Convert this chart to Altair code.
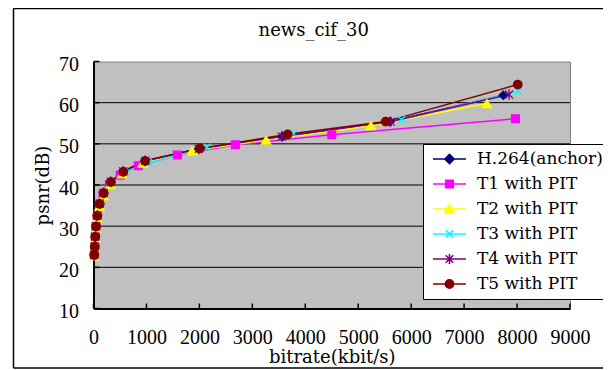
import altair as alt
import pandas as pd

series = ["H.264(anchor)", "T1 with PIT", "T2 with PIT", "T3 with PIT", "T4 with PIT", "T5 with PIT"]
colors = ["#000080", "#FF00FF", "#FFFF00", "#00FFFF", "#800080", "#800000"]

anchor_x = [14, 24, 34, 48, 72, 115, 190, 325, 560, 975, 1990, 3570, 5600, 7740]
anchor_y = [23.0, 25.1, 27.5, 30.0, 32.6, 35.5, 38.1, 40.8, 43.3, 45.9, 48.8, 51.8, 55.4, 61.8]
t1_x = [14, 23, 32, 46, 70, 110, 180, 300, 505, 845, 1585, 2680, 4500, 7970]
t1_y = [22.9, 24.9, 27.3, 29.8, 32.3, 35.1, 37.6, 40.1, 42.4, 44.7, 47.3, 49.8, 52.2, 56.1]
t2_x = [15, 24, 34, 48, 73, 116, 188, 320, 540, 930, 1860, 3260, 5240, 7430]
t2_y = [22.8, 24.8, 27.1, 29.5, 32.0, 34.9, 37.4, 40.1, 42.7, 45.3, 48.3, 50.9, 54.4, 59.8]
t3_x = [15, 25, 35, 50, 76, 120, 196, 340, 585, 1035, 2140, 3775, 5820, 8025]
t3_y = [23.0, 25.1, 27.5, 30.0, 32.6, 35.5, 38.0, 40.6, 43.1, 45.4, 49.1, 52.4, 55.9, 62.8]
t4_x = [14, 24, 34, 48, 72, 116, 191, 327, 560, 980, 1990, 3555, 5615, 7850]
t4_y = [23.0, 25.1, 27.5, 30.0, 32.6, 35.5, 38.1, 40.8, 43.3, 45.9, 48.8, 51.8, 55.4, 62.0]
t5_x = [15, 24, 34, 48, 72, 117, 193, 330, 563, 973, 2012, 3668, 5519, 8013]
t5_y = [23.0, 25.0, 27.4, 29.9, 32.5, 35.4, 38.0, 40.7, 43.2, 45.8, 48.9, 52.3, 55.4, 64.4]

x_ticks = [0, 1000, 2000, 3000, 4000, 5000, 6000, 7000, 8000, 9000]
y_ticks = [10, 20, 30, 40, 50, 60, 70]
grid_y = [20, 30, 40, 50, 60]

point_shapes = ["diamond", "square", "triangle-up",
                "M-1,-1L1,1M1,-1L-1,1",
                "M-1,-1L1,1M1,-1L-1,1M0,-1.3L0,1.3",
                "circle"]
point_sizes = [70, 60, 85, 55, 64, 72]
legend_shapes = [
    "M-1,0L1,0M0,-0.28L0.28,0L0,0.28L-0.28,0Z",
    "M-1,0L1,0M-0.23,-0.23L0.23,-0.23L0.23,0.23L-0.23,0.23Z",
    "M-1,0L1,0M0,-0.27L0.29,0.23L-0.29,0.23Z",
    "M-1,0L1,0M-0.22,-0.22L0.22,0.22M0.22,-0.22L-0.22,0.22",
    "M-1,0L1,0M-0.23,-0.23L0.23,0.23M0.23,-0.23L-0.23,0.23M0,-0.3L0,0.3",
    "M-1,0L1,0M-0.25,0A0.25,0.25,0,1,1,0.25,0A0.25,0.25,0,1,1,-0.25,0Z",
]

xs_all = [anchor_x, t1_x, t2_x, t3_x, t4_x, t5_x]
ys_all = [anchor_y, t1_y, t2_y, t3_y, t4_y, t5_y]
rows = []
for name, xs, ys in zip(series, xs_all, ys_all):
    for xv, yv in zip(xs, ys):
        rows.append({"series": name, "bitrate": xv, "psnr": yv})
df = pd.DataFrame(rows)

W, H = 476.5, 247
xscale = alt.Scale(domain=[0, 9000], nice=False, zero=False)
yscale = alt.Scale(domain=[10, 70], nice=False, zero=False)

x_axis = alt.Axis(values=x_ticks, format="d", title="bitrate(kbit/s)", grid=False, ticks=False, tickSize=0,
                  domainColor="black", domainWidth=2, labelFont="Liberation Serif", labelFontSize=20,
                  labelColor="black", labelPadding=19, labelFlush=False, labelOverlap=False,
                  titleFont="DejaVu Serif", titleFontSize=18, titleFontWeight="normal",
                  titleColor="black", titlePadding=1)
y_axis = alt.Axis(values=y_ticks, format="d", title="psnr(dB)", grid=False, ticks=False, tickSize=0,
                  domainColor="black", domainWidth=2, labelFont="Liberation Serif", labelFontSize=20,
                  labelColor="black", labelPadding=15, labelFlush=False, labelOverlap=False,
                  labelOffset=3,
                  titleFont="DejaVu Serif", titleFontSize=18, titleFontWeight="normal",
                  titleColor="black", titlePadding=6)

base = alt.Chart(df)
X = alt.X("bitrate:Q", scale=xscale, axis=x_axis)
Y = alt.Y("psnr:Q", scale=yscale, axis=y_axis)

grid = alt.Chart(pd.DataFrame({"g": grid_y})).mark_rule(color="black", strokeWidth=1).encode(
    y=alt.Y("g:Q", scale=yscale, axis=y_axis))
xtick = alt.Chart(pd.DataFrame({"t": x_ticks})).mark_rule(color="black", strokeWidth=1.5).encode(
    x=alt.X("t:Q", scale=xscale, axis=x_axis), y=alt.value(H - 5), y2=alt.value(H))
ytick = alt.Chart(pd.DataFrame({"t": y_ticks})).mark_rule(color="black", strokeWidth=1.5).encode(
    y=alt.Y("t:Q", scale=yscale, axis=y_axis), x=alt.value(0), x2=alt.value(6))

leg = alt.Legend(title=None, orient="none", legendX=329.5, legendY=82.5, symbolSize=1089,
                 symbolStrokeWidth=1.6, symbolOpacity=1, labelFont="DejaVu Serif", labelFontSize=17,
                 labelColor="black", labelOffset=10, padding=5, rowPadding=5, clipHeight=20,
                 fillColor="white", strokeColor="black", symbolOffset=4)

lines = base.mark_line(strokeWidth=1.5).encode(
    x=X, y=Y,
    color=alt.Color("series:N", scale=alt.Scale(domain=series, range=colors), legend=leg))

point_layers = []
for name, col, shp, sz in zip(series, colors, point_shapes, point_sizes):
    point_layers.append(
        base.transform_filter(alt.datum.series == name).mark_point(
            shape=shp, size=sz, filled=True, fill=col, stroke=col, strokeWidth=1.3, opacity=1
        ).encode(x=X, y=Y)
    )

legend_layer = base.mark_point(filled=True, opacity=0).encode(
    x=X, y=Y,
    fill=alt.Fill("series:N", scale=alt.Scale(domain=series, range=colors), legend=None),
    stroke=alt.Stroke("series:N", scale=alt.Scale(domain=series, range=colors), legend=None),
    shape=alt.Shape("series:N", scale=alt.Scale(domain=series, range=legend_shapes), legend=leg),
)

fdata = pd.DataFrame({"a": [0]})
frame_left = alt.Chart(fdata).mark_rule(color="black", strokeWidth=1.5).encode(
    x=alt.value(-80), y=alt.value(-53), y2=alt.value(306.5))
frame_top = alt.Chart(fdata).mark_rule(color="black", strokeWidth=1.5).encode(
    x=alt.value(-80), x2=alt.value(520), y=alt.value(-53))
frame_bottom = alt.Chart(fdata).mark_rule(color="black", strokeWidth=1.5).encode(
    x=alt.value(-80), x2=alt.value(520), y=alt.value(306.5))

chart = alt.layer(
    grid, xtick, ytick, lines, *point_layers, legend_layer, frame_left, frame_top, frame_bottom
).properties(
    width=W, height=H,
    title=alt.TitleParams("news_cif_30", font="DejaVu Serif", fontSize=18, fontWeight="normal",
                          color="black", frame="group", dx=-18, offset=-32),
    autosize=alt.AutoSizeParams(type="none"),
    padding={"left": 85.5, "top": 53.5, "right": 33, "bottom": 61.5},
    background="white",
).configure_view(fill="#C0C0C0", stroke="#808080", strokeWidth=1)

chart.save("out.html", embed_options={"renderer": "svg", "actions": False})
